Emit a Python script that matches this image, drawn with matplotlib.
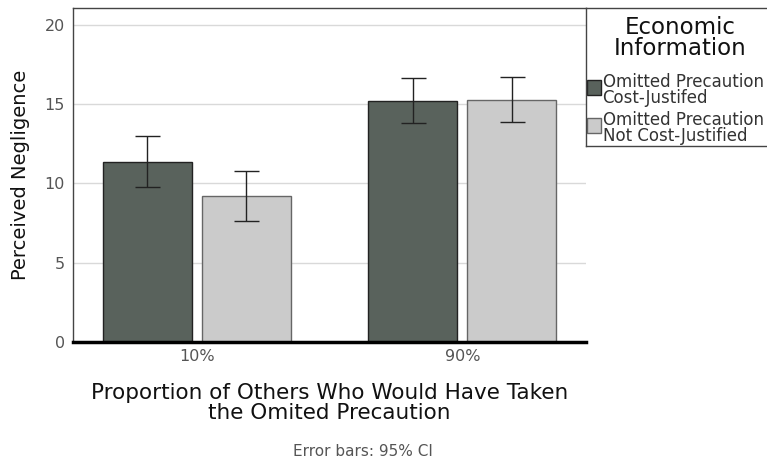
import matplotlib
matplotlib.use("Agg")
import matplotlib.pyplot as plt
import numpy as np

groups = ["10%", "90%"]
series = ["Omitted Precaution\nCost-Justifed", "Omitted Precaution\nNot Cost-Justified"]
means_cost = [11.36, 15.20]
means_notcost = [9.21, 15.27]
ci_low_cost = [9.78, 13.82]
ci_high_cost = [13.00, 16.66]
ci_low_notcost = [7.63, 13.88]
ci_high_notcost = [10.79, 16.72]
yticks = [0, 5, 10, 15, 20]

colors = ["#59625c", "#cbcbcb"]
edges = ["#222222", "#666666"]

plt.rcParams['font.family'] = ['DejaVu Sans']
fig = plt.figure(figsize=(7.67, 4.62), dpi=100)
ax = fig.add_axes([73/767, 1 - 342/462, (586-73)/767, (342-8)/462])

x = np.arange(len(groups))
w = 0.335
off = 0.186
for vals, lo, hi, c, ec, sgn in [
    (means_cost, ci_low_cost, ci_high_cost, colors[0], edges[0], -1),
    (means_notcost, ci_low_notcost, ci_high_notcost, colors[1], edges[1], 1),
]:
    xs = x + sgn * off
    ax.bar(xs, vals, width=w, color=c, edgecolor=ec, linewidth=1.0, zorder=2)
    vals = np.array(vals)
    yerr = np.vstack([vals - np.array(lo), np.array(hi) - vals])
    ax.errorbar(xs, vals, yerr=yerr, fmt="none", ecolor="#222222",
                elinewidth=1.0, capsize=9, capthick=1.0, zorder=3)

ax.set_xlim(-0.466, 1.466)
ax.set_ylim(0, 21.07)
ax.set_yticks(yticks)
ax.set_xticks(x)
ax.set_xticklabels(groups)
ax.yaxis.grid(True, color="#d9d9d9", linewidth=1.0, zorder=0)
ax.set_axisbelow(True)
ax.tick_params(axis="both", length=0, labelsize=11.5, labelcolor="#555555")
ax.tick_params(axis="y", pad=6)
ax.tick_params(axis="x", pad=5)
for s in ["left", "top"]:
    ax.spines[s].set_color("#444444")
    ax.spines[s].set_linewidth(1.0)
ax.spines["right"].set_visible(False)
ax.spines["bottom"].set_color("black")
ax.spines["bottom"].set_linewidth(2.5)

ax.set_ylabel("Perceived Negligence", fontsize=14, color="#111111", labelpad=10)
ax.set_xlabel("Proportion of Others Who Would Have Taken\nthe Omited Precaution",
              fontsize=15.5, color="#111111", labelpad=14, linespacing=0.95)
fig.text(363/767, 1 - 452/462, "Error bars: 95% CI", fontsize=11,
         color="#555555", ha="center", va="center")

# legend panel on the right
lax = fig.add_axes([586/767, 1 - 146/462, (767-586)/767 + 0.01, (146-8)/462])
lax.set_xlim(0, 1)
lax.set_ylim(0, 1)
lax.set_xticks([])
lax.set_yticks([])
for s in ["left", "top", "bottom"]:
    lax.spines[s].set_color("#444444")
    lax.spines[s].set_linewidth(1.0)
lax.spines["right"].set_visible(False)
lax.text(0.5, 1 - (27-8)/138, "Economic", ha="center", va="center", fontsize=16.5, color="#111111")
lax.text(0.5, 1 - (48-8)/138, "Information", ha="center", va="center", fontsize=16.5, color="#111111")
ys = [1 - (90-8)/138, 1 - (128-8)/138]
for yv, lab, c, ec in zip(ys, series, colors, edges):
    lax.add_patch(plt.Rectangle((0.005, yv - 0.035), 0.075, 0.105, facecolor=c,
                                edgecolor=ec, linewidth=1.0, transform=lax.transAxes,
                                clip_on=False))
    lax.text(0.088, yv, lab, ha="left", va="center", fontsize=12,
             color="#333333", linespacing=0.9)

fig.savefig("out.png", dpi=100)
